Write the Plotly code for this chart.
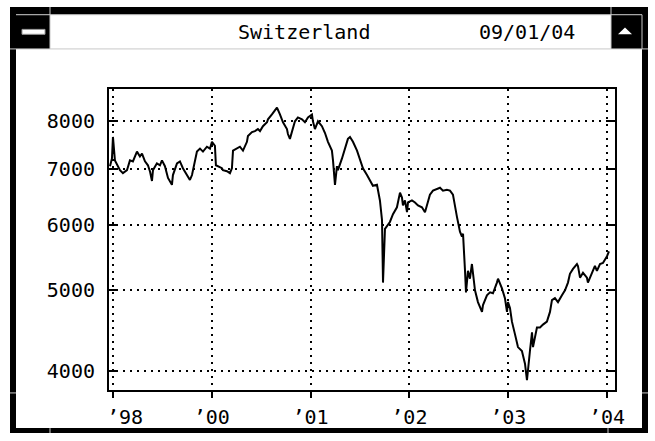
import plotly.graph_objects as go

# ---------------- data ----------------
years = [
    1998.970, 1998.990, 1999.000, 1999.020, 1999.071, 1999.101, 1999.142, 1999.172, 1999.202, 1999.243,
    1999.273, 1999.294, 1999.324, 1999.354, 1999.374, 1999.395, 1999.405, 1999.445, 1999.476, 1999.496,
    1999.526, 1999.547, 1999.557, 1999.597, 1999.607, 1999.648, 1999.678, 1999.708, 1999.749, 1999.759,
    1999.779, 1999.800, 1999.810, 1999.850, 1999.881, 1999.911, 1999.951, 1999.982, 2000.002, 2000.032,
    2000.042, 2000.063, 2000.103, 2000.113, 2000.154, 2000.184, 2000.204, 2000.215, 2000.255, 2000.285,
    2000.316, 2000.356, 2000.366, 2000.407, 2000.437, 2000.467, 2000.488, 2000.518, 2000.559, 2000.569,
    2000.609, 2000.640, 2000.660, 2000.690, 2000.721, 2000.761, 2000.771, 2000.791, 2000.812, 2000.842,
    2000.872, 2000.913, 2000.943, 2000.974, 2001.014, 2001.024, 2001.044, 2001.075, 2001.115, 2001.146,
    2001.176, 2001.216, 2001.227, 2001.247, 2001.267, 2001.277, 2001.318, 2001.348, 2001.378, 2001.399,
    2001.429, 2001.470, 2001.500, 2001.530, 2001.571, 2001.601, 2001.631, 2001.672, 2001.682, 2001.702,
    2001.723, 2001.733, 2001.753, 2001.783, 2001.803, 2001.834, 2001.874, 2001.905, 2001.925, 2001.935,
    2001.955, 2001.976, 2001.986, 2002.026, 2002.057, 2002.087, 2002.127, 2002.158, 2002.178, 2002.208,
    2002.239, 2002.279, 2002.310, 2002.340, 2002.380, 2002.411, 2002.441, 2002.482, 2002.512, 2002.532,
    2002.543, 2002.563, 2002.573, 2002.593, 2002.613, 2002.633, 2002.664, 2002.694, 2002.735, 2002.745,
    2002.785, 2002.816, 2002.846, 2002.886, 2002.897, 2002.937, 2002.967, 2002.988, 2002.998, 2003.018,
    2003.038, 2003.069, 2003.099, 2003.139, 2003.170, 2003.190, 2003.200, 2003.220, 2003.241, 2003.251,
    2003.291, 2003.322, 2003.352, 2003.392, 2003.423, 2003.443, 2003.473, 2003.504, 2003.544, 2003.575,
    2003.605, 2003.625, 2003.656, 2003.696, 2003.706, 2003.727, 2003.757, 2003.797, 2003.807, 2003.848,
    2003.878, 2003.898, 2003.929, 2003.959, 2004.000, 2004.020,
]
index_values = [
    7060, 7215, 7659, 7176, 6983, 6926, 6983, 7176, 7156, 7353,
    7254, 7314, 7156, 7079, 6964, 6777, 6983, 7117, 7079, 7176,
    7060, 6889, 6833, 6704, 6889, 7117, 7156, 7021, 6889, 6833,
    6796, 6889, 6983, 7353, 7414, 7353, 7454, 7414, 7556, 7474,
    7079, 7060, 7021, 6983, 6964, 6926, 7021, 7373, 7414, 7454,
    7373, 7556, 7680, 7764, 7785, 7828, 7785, 7892, 7978, 8044,
    8154, 8265, 8310, 8154, 7978, 7828, 7722, 7618, 7764, 8000,
    8087, 8044, 7978, 8087, 8154, 8000, 7828, 8000, 7892, 7743,
    7556, 7373, 7176, 6704, 7060, 6983, 7215, 7394, 7618, 7659,
    7556, 7373, 7176, 7021, 6889, 6796, 6686, 6704, 6596, 6419,
    6079, 5108, 5932, 6013, 6046, 6179, 6298, 6560, 6471, 6332,
    6419, 6213, 6384, 6419, 6384, 6332, 6298, 6213, 6349, 6524,
    6596, 6632, 6650, 6596, 6614, 6596, 6524, 6129, 5884, 5805,
    5852, 5278, 4971, 5278, 5164, 5379, 5000, 4838, 4708, 4799,
    4931, 4971, 4958, 5108, 5164, 5026, 4891, 4708, 4838, 4760,
    4582, 4423, 4269, 4223, 4077, 3893, 4022, 4223, 4447, 4269,
    4508, 4508, 4545, 4582, 4708, 4864, 4891, 4838, 4931, 5000,
    5108, 5235, 5307, 5379, 5350, 5178, 5249, 5178, 5108, 5235,
    5350, 5278, 5379, 5394, 5497, 5573,
]

x_tick_years = [1999, 2000, 2001, 2002, 2003, 2004]
x_tick_labels = ["\u00a0\u00a0’98", "’00", "’01", "’02", "’03", "’04"]
y_tick_values = [4000, 5000, 6000, 7000, 8000]
y_tick_labels = ["4000", "5000", "6000", "7000", "8000"]

title_text = "Switzerland"
date_text = "09/01/04"

# ---------------- figure ----------------
W, H = 655, 441
L, R, T, B = 109, 40, 89, 44
PW, PH = W - L - R, H - T - B


def fx(p):
    return (p - L) / PW


def fy(p):
    return (H - B - p) / PH


FONT = "DejaVu Sans Mono"
fig = go.Figure()
fig.add_trace(go.Scatter(x=years, y=index_values, mode="lines",
                         line=dict(color="black", width=2), hoverinfo="skip"))

grid = dict(showgrid=True, gridcolor="black", gridwidth=2, griddash="2px,5px")

fig.update_layout(
    width=W, height=H,
    margin=dict(l=L, r=R, t=T, b=B, pad=0),
    paper_bgcolor="white", plot_bgcolor="white",
    showlegend=False,
    xaxis=dict(range=[1998.960, 2004.081], tickmode="array", tickvals=x_tick_years,
               ticktext=x_tick_labels, ticks="outside", ticklen=6, tickwidth=2, tickcolor="black",
               showline=True, linewidth=2, linecolor="black", mirror=True, zeroline=False,
               ticklabelstandoff=2,
               tickfont=dict(family=FONT, size=20, color="black"), **grid),
    yaxis=dict(type="log", range=[3.5785, 3.9421], tickmode="array", tickvals=y_tick_values,
               ticktext=y_tick_labels, ticks="inside", ticklen=9, tickwidth=2, tickcolor="black",
               showline=True, linewidth=2, linecolor="black", mirror="ticks", zeroline=False,
               ticklabelstandoff=8,
               tickfont=dict(family=FONT, size=20, color="black"), **grid),
)

shapes = []


def rect(x0, y0, x1, y1, fill="black", line=None):
    shapes.append(dict(type="rect", xref="paper", yref="paper",
                       x0=fx(x0), x1=fx(x1), y0=fy(y1), y1=fy(y0),
                       fillcolor=fill, line=line or dict(width=0), layer="above"))


def seg(x0, y0, x1, y1, color="#c8c8c8", width=1):
    shapes.append(dict(type="line", xref="paper", yref="paper",
                       x0=fx(x0), x1=fx(x1), y0=fy(y0), y1=fy(y1),
                       line=dict(color=color, width=width), layer="above"))


# window frame
rect(10, 5, 648, 13)
rect(10, 5, 16, 441)
rect(642, 5, 648, 441)
rect(10, 436, 648, 441)
# title bar buttons
rect(16, 13, 50, 48)
rect(611, 13, 642, 48)
# title bar outlines / resize notches
seg(16, 13, 642, 13)
seg(16, 48, 642, 48)
seg(50, 5, 50, 48)
seg(611, 5, 611, 48)
seg(642, 13, 642, 48)
seg(10, 48, 16, 48)
seg(642, 48, 648, 48)
seg(10, 400, 16, 400)
seg(642, 400, 648, 400)
seg(50, 436, 50, 441)
seg(608, 436, 608, 441)
# minus button bar
shapes.append(dict(type="rect", xref="paper", yref="paper",
                   x0=fx(22), x1=fx(45), y0=fy(33), y1=fy(28),
                   fillcolor="white", line=dict(color="#9a9a9a", width=1), layer="above"))
# up-arrow triangle
shapes.append(dict(type="path", xref="paper", yref="paper",
                   path=f"M {fx(618)},{fy(33)} L {fx(625)},{fy(26)} L {fx(632)},{fy(33)} Z",
                   fillcolor="white", line=dict(width=0), layer="above"))
fig.update_layout(shapes=shapes)

fig.add_annotation(text=title_text, xref="paper", yref="paper", x=fx(304), y=fy(31),
                   xanchor="center", yanchor="middle", showarrow=False,
                   font=dict(family=FONT, size=20, color="black"))
fig.add_annotation(text=date_text, xref="paper", yref="paper", x=fx(577), y=fy(31),
                   xanchor="right", yanchor="middle", showarrow=False,
                   font=dict(family=FONT, size=20, color="black"))

fig.write_html("out.html",
               config={"displayModeBar": False, "staticPlot": True},
               post_script="document.body.style.margin='0';document.body.style.overflow='hidden';")
